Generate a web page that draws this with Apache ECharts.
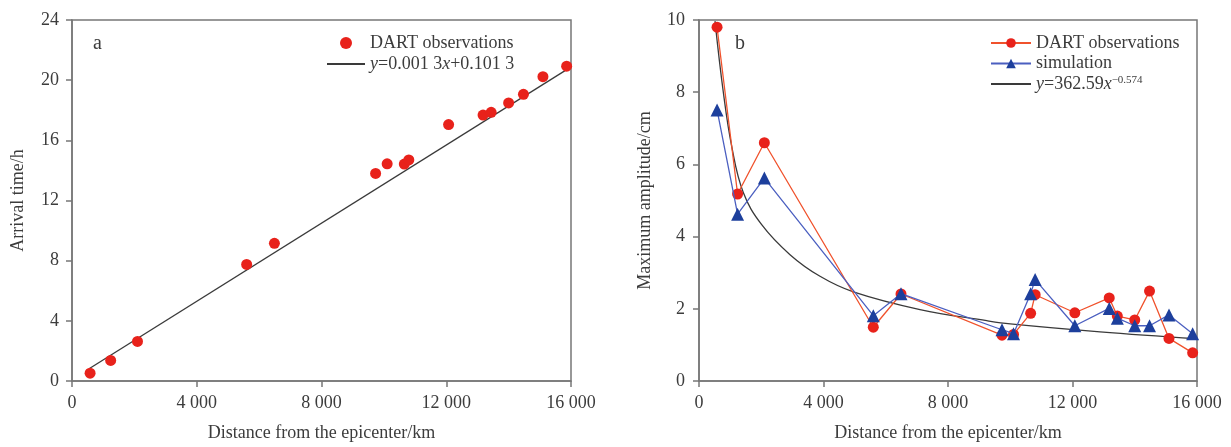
<!DOCTYPE html>
<html>
<head>
<meta charset="utf-8">
<script src="https://cdn.jsdelivr.net/npm/echarts@6/dist/echarts.min.js"></script>
<style>
html,body{margin:0;padding:0;background:#fff;}
#c{width:1231px;height:447px;}
</style>
</head>
<body>
<div id="c"></div>
<script>
// ---- data ----
const distance = [580, 1240, 2100, 5600, 6490, 9735, 10105, 10655, 10800, 12075, 13180, 13440, 14000, 14475, 15100, 15860];
const arrivalTime = [0.52, 1.37, 2.63, 7.75, 9.15, 13.8, 14.44, 14.42, 14.7, 17.05, 17.68, 17.86, 18.49, 19.06, 20.23, 20.93];
const obsAmplitude = [9.80, 5.18, 6.60, 1.49, 2.41, 1.27, 1.29, 1.875, 2.39, 1.89, 2.30, 1.80, 1.69, 2.49, 1.18, 0.78];
const simAmplitude = [7.51, 4.62, 5.62, 1.81, 2.42, 1.42, 1.31, 2.42, 2.81, 1.53, 2.01, 1.74, 1.53, 1.53, 1.83, 1.31];
// fitted line (panel a), end points
const fitAX = [560, 15900];
const fitAY = [0.83, 20.75];
// fitted power curve (panel b)
const fitBX = [514, 781, 1051, 1423, 2014, 2924, 3888, 4958, 7100, 9243, 10000, 12884, 15990];
const fitBY = [9.97, 8.0, 6.5, 5.22, 4.33, 3.5, 2.9, 2.47, 1.98, 1.67, 1.58, 1.36, 1.17];

const zip = (a, b) => a.map((v, i) => [v, b[i]]);
const FONT = 'Liberation Serif';
const AX = '#777';
const TXT = '#3c3c3c';
const fmtK = v => v === 0 ? '0' : (Math.floor(v / 1000) + ' 000');

function xAxis(grid) {
  return {
    type: 'value', gridIndex: grid, min: 0, max: 16000, interval: 4000,
    name: 'Distance from the epicenter/km', nameLocation: 'middle', nameGap: 43,
    nameTextStyle: {fontFamily: FONT, fontSize: 18, color: TXT},
    axisLine: {show: true, lineStyle: {color: AX, width: 1.5}},
    axisTick: {show: true, inside: false, length: 6, lineStyle: {color: AX, width: 1.5}},
    axisLabel: {fontFamily: FONT, fontSize: 18, color: TXT, margin: 13, formatter: fmtK},
    splitLine: {show: false}
  };
}
function yAxis(grid, max, interval, name, margin) {
  return {
    type: 'value', gridIndex: grid, min: 0, max: max, interval: interval,
    name: name, nameLocation: 'middle', nameGap: 45, nameRotate: 90,
    nameTextStyle: {fontFamily: FONT, fontSize: 18, color: TXT},
    axisLine: {show: true, lineStyle: {color: AX, width: 1.5}},
    axisTick: {show: true, inside: false, length: 6, lineStyle: {color: AX, width: 1.5}},
    axisLabel: {fontFamily: FONT, fontSize: 18, color: TXT, margin: margin},
    splitLine: {show: false}
  };
}

const legendNames = {
  obsA: 'DART observations',
  fitA: '{i|y}=0.001 3{i|x}+0.101 3',
  obsB: 'DART observations',
  simB: 'simulation',
  fitB: '{i|y}=362.59{i|x}{s|\u22120.574}'
};
const legendText = {
  fontFamily: FONT, fontSize: 18, color: TXT, lineHeight: 18,
  rich: {
    i: {fontFamily: FONT, fontSize: 18, fontStyle: 'italic', color: TXT, lineHeight: 18},
    s: {fontFamily: FONT, fontSize: 11, color: TXT, verticalAlign: 'top', lineHeight: 11, padding: [0, 0, 7, 0]}
  }
};

const chart = echarts.init(document.getElementById('c'));
chart.setOption({
  animation: false,
  backgroundColor: '#fff',
  title: [
    {text: 'a', left: 88, top: 29, textStyle: {fontFamily: FONT, fontSize: 20, fontWeight: 'normal', color: TXT}},
    {text: 'b', left: 730, top: 29, textStyle: {fontFamily: FONT, fontSize: 20, fontWeight: 'normal', color: TXT}}
  ],
  grid: [
    {left: 72, right: 660, top: 20, bottom: 60, show: true, borderColor: AX, borderWidth: 1.5, backgroundColor: 'transparent'},
    {left: 699, right: 34, top: 20, bottom: 60, show: true, borderColor: AX, borderWidth: 1.5, backgroundColor: 'transparent'}
  ],
  xAxis: [xAxis(0), xAxis(1)],
  yAxis: [yAxis(0, 24, 4, 'Arrival time/h', 13), yAxis(1, 10, 2, 'Maximum amplitude/cm', 14)],
  legend: [
    {data: ['obsA', {name: 'fitA', itemStyle: {opacity: 0}}], orient: 'vertical', left: 321, top: 29,
     itemWidth: 38, itemHeight: 12, itemGap: 3,
     formatter: n => legendNames[n], textStyle: legendText},
    {data: ['obsB', 'simB', {name: 'fitB', itemStyle: {opacity: 0}}], orient: 'vertical', left: 985, top: 29,
     itemWidth: 40, itemHeight: 12, itemGap: 2.5,
     formatter: n => legendNames[n], textStyle: legendText}
  ],
  series: [
    {name: 'fitA', type: 'line', xAxisIndex: 0, yAxisIndex: 0, data: zip(fitAX, fitAY), symbol: 'none',
     lineStyle: {color: '#3a3a3a', width: 1.3}, itemStyle: {color: '#3a3a3a'}, z: 2},
    {name: 'obsA', type: 'scatter', xAxisIndex: 0, yAxisIndex: 0, data: zip(distance, arrivalTime), symbol: 'circle', symbolSize: 11,
     itemStyle: {color: '#e8221b', opacity: 1}, z: 3},
    {name: 'fitB', type: 'line', xAxisIndex: 1, yAxisIndex: 1, data: zip(fitBX, fitBY), symbol: 'none', smooth: 0.4,
     lineStyle: {color: '#3a3a3a', width: 1.3}, itemStyle: {color: '#3a3a3a'}, z: 2},
    {name: 'obsB', type: 'line', xAxisIndex: 1, yAxisIndex: 1, data: zip(distance, obsAmplitude), symbol: 'circle', symbolSize: 11,
     lineStyle: {color: '#f0522c', width: 1.3}, itemStyle: {color: '#e8221b'}, z: 3},
    {name: 'simB', type: 'line', xAxisIndex: 1, yAxisIndex: 1, data: zip(distance, simAmplitude), symbol: 'triangle', symbolSize: 13,
     lineStyle: {color: '#4b5fc0', width: 1.3}, itemStyle: {color: '#1d3f9c'}, z: 4}
  ]
});
</script>
</body>
</html>
